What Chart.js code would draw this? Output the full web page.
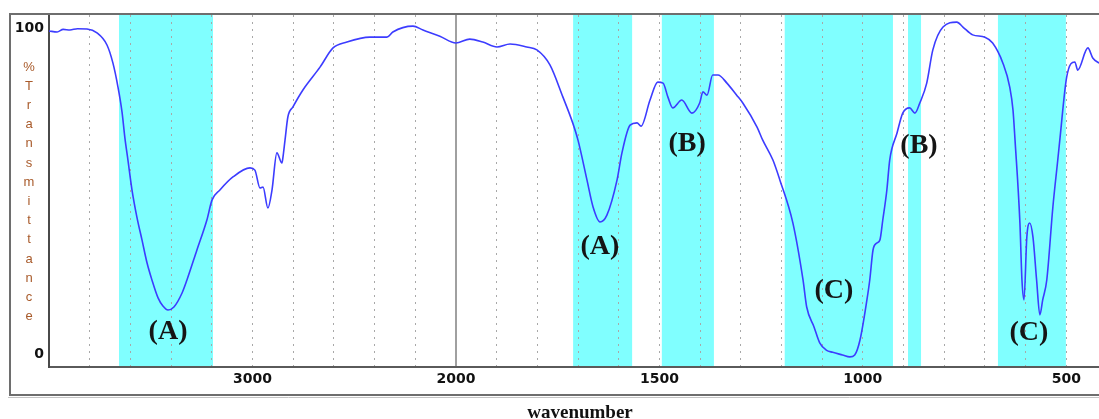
<!DOCTYPE html>
<html>
<head>
<meta charset="utf-8">
<script src="https://cdn.jsdelivr.net/npm/chart.js@4.4.1/dist/chart.umd.min.js"></script>
<style>
  html, body { margin: 0; padding: 0; background: #fff; overflow: hidden; }
  #wrap { width: 1099px; height: 419px; overflow: hidden; position: relative; }
  canvas { display: block; }
</style>
</head>
<body>
<div id="wrap"><canvas id="ir" width="1130" height="419"></canvas></div>
<script>
// IR spectrum: wavenumber (cm-1) and % transmittance
const wavenumbers = [
  4000, 3960, 3930, 3897, 3860, 3813, 3764, 3715, 3686, 3661, 3641, 3627, 3612, 3592, 3568,
  3543, 3518, 3494, 3464, 3440, 3415, 3386, 3346, 3322, 3273, 3224, 3199, 3160, 3096, 3012,
  2988, 2963, 2948, 2924, 2904, 2880, 2855, 2850, 2840, 2826, 2801, 2752, 2668, 2604, 2536,
  2423, 2339, 2310, 2211, 2162, 2079, 2000, 1966, 1934, 1899, 1867, 1826, 1801, 1769, 1737,
  1713, 1700, 1678, 1663, 1646, 1629, 1604, 1592, 1572, 1555, 1545, 1523, 1504, 1491, 1479,
  1467, 1445, 1420, 1401, 1393, 1383, 1369, 1356, 1334, 1310, 1295, 1260, 1246, 1221, 1204,
  1172, 1147, 1138, 1120, 1106, 1090, 1074, 1050, 1032, 1020, 1007, 990, 983, 975, 966, 958, 951,
  941, 934, 916, 902, 885, 872, 860, 843, 828, 803, 769, 754, 730, 700, 681,
  656, 639, 631, 626, 614, 609, 604, 597, 590, 582, 573, 565, 558, 548, 533,
  521, 516, 499, 479, 472, 447, 435, 420, 400
];
const transmittance = [
  99.1, 98.8, 99.6, 99.4, 99.8, 99.7, 98.5, 94.8, 89.3, 81.9, 74.2, 66.3, 59.5, 50.3, 42.0,
  35.0, 27.9, 22.7, 17.2, 14.7, 13.5, 14.4, 18.7, 22.7, 31.9, 41.1, 47.2, 50.3, 54.3, 57.1,
  56.4, 50.9, 51.2, 44.8, 50.3, 61.7, 58.6, 60.4, 65.6, 72.7, 75.8, 81.0, 88.0, 93.9, 95.7,
  97.2, 97.2, 98.8, 100.6, 99.4, 97.5, 95.4, 96.6, 95.7, 94.2, 95.1, 94.2, 93.3, 88.7, 78.8,
  70.9, 65.6, 53.4, 45.1, 40.5, 42.6, 53.4, 61.7, 70.2, 70.9, 69.9, 77.9, 83.4, 83.1, 78.8,
  75.5, 77.9, 73.9, 77.0, 80.4, 79.4, 85.6, 85.6, 83.1, 79.4, 77.0, 69.6, 65.6, 59.5, 53.4,
  40.2, 22.7, 14.4, 8.3, 3.4, 1.2, 0.5, -0.3, -0.9, -0.3, 4.3, 16.6, 22.7, 31.9, 34.0, 35.0, 41.1,
  50.3, 59.5, 67.8, 73.9, 75.5, 73.9, 77.0, 83.1, 93.3, 100.3, 101.8, 100.3, 97.9, 97.2, 95.4,
  89.3, 81.9, 74.8, 65.6, 40.2, 22.7, 16.6, 35.9, 40.2, 35.9, 22.7, 12.0, 16.6, 22.7, 45.1,
  59.5, 65.6, 85.0, 89.6, 87.1, 93.9, 90.8, 89.3, 88.0
];

// Highlighted absorption regions (from, to) in cm-1
const bandFrom = [3656, 1712, 1494, 1192, 889, 668];
const bandTo   = [3194, 1567, 1366,  926, 857, 501];

// Group labels and where they sit (cm-1, %T)
const groupLabels = ['(A)', '(A)', '(B)', '(B)', '(C)', '(C)'];
const groupLabelWn = [3415, 1646, 1432, 862, 1071, 592];
const groupLabelT  = [6.7, 32.8, 64.4, 63.8, 19.3, 6.4];

// Axis ticks
const gridWavenumbers = [3800, 3600, 3400, 3200, 3000, 2800, 2600, 2400, 2200, 2000,
  1900, 1800, 1700, 1600, 1500, 1400, 1300, 1200, 1100, 1000, 900, 800, 700, 600, 500];
const labeledWavenumbers = [3000, 2000, 1500, 1000, 500];
const yTickValues = [0, 100];
const yTitle = '%Transmittance';
const xTitle = 'wavenumber';

// Wavenumber axis: scale is compressed 2x above 2000 cm-1
const SPLIT = 2000;
function warp(wn) { return wn >= SPLIT ? (4000 - wn) : (4000 - SPLIT) + (SPLIT - wn) * 2; }
function unwarp(u) { return u <= (4000 - SPLIT) ? 4000 - u : SPLIT - (u - (4000 - SPLIT)) / 2; }

class WavenumberScale extends Chart.LinearScale {
  getPixelForValue(value) {
    if (value === null || value === undefined || isNaN(value)) return NaN;
    const a = warp(this.max), b = warp(this.min);
    return this.getPixelForDecimal((warp(value) - a) / (b - a));
  }
  getValueForPixel(pixel) {
    const a = warp(this.max), b = warp(this.min);
    return unwarp(a + this.getDecimalForPixel(pixel) * (b - a));
  }
}
WavenumberScale.id = 'wavenumber';
WavenumberScale.defaults = Chart.LinearScale.defaults;
Chart.register(WavenumberScale);

const bandsPlugin = {
  id: 'bands',
  beforeDraw(chart) {
    const { ctx, chartArea, scales } = chart;
    ctx.save();
    ctx.fillStyle = '#ffffff';
    ctx.fillRect(0, 0, chart.width, chart.height);
    ctx.fillStyle = '#80ffff';
    for (let i = 0; i < bandFrom.length; i++) {
      const x1 = scales.x.getPixelForValue(bandFrom[i]);
      const x2 = scales.x.getPixelForValue(bandTo[i]);
      ctx.fillRect(x1, chartArea.top, x2 - x1, chartArea.bottom - chartArea.top);
    }
    ctx.restore();
  }
};

const decorPlugin = {
  id: 'decor',
  afterDatasetsDraw(chart) {
    const { ctx, scales } = chart;
    ctx.save();
    ctx.fillStyle = '#151515';
    ctx.font = 'bold 28px "Liberation Serif", "Times New Roman", serif';
    ctx.textAlign = 'center';
    ctx.textBaseline = 'middle';
    for (let i = 0; i < groupLabels.length; i++) {
      ctx.fillText(groupLabels[i], scales.x.getPixelForValue(groupLabelWn[i]),
        scales.y.getPixelForValue(groupLabelT[i]));
    }
    ctx.restore();
  },
  afterDraw(chart) {
    const { ctx } = chart;
    ctx.save();
    // outer frame
    ctx.strokeStyle = '#6e6e6e';
    ctx.lineWidth = 2;
    ctx.beginPath();
    ctx.moveTo(chart.width, 14);
    ctx.lineTo(10, 14);
    ctx.lineTo(10, 395);
    ctx.lineTo(chart.width, 395);
    ctx.stroke();
    ctx.strokeStyle = '#c4c4c4';
    ctx.lineWidth = 1;
    ctx.beginPath();
    ctx.moveTo(8, 397.5);
    ctx.lineTo(chart.width, 397.5);
    ctx.stroke();

    // vertical y-axis title
    ctx.fillStyle = '#a85a2a';
    ctx.font = '13px "Liberation Sans", Arial, sans-serif';
    ctx.textAlign = 'center';
    ctx.textBaseline = 'middle';
    Array.from(yTitle).forEach((ch, i) => ctx.fillText(ch, 29, 67 + i * 19.2));

    // x-axis title
    ctx.fillStyle = '#111';
    ctx.font = 'bold 19px "Liberation Serif", "Times New Roman", serif';
    ctx.textBaseline = 'alphabetic';
    ctx.fillText(xTitle, 580, 418);
    ctx.restore();
  }
};

const tickFont = { family: '"DejaVu Sans", sans-serif', size: 14, weight: 'bold' };

new Chart(document.getElementById('ir'), {
  type: 'line',
  data: {
    datasets: [{
      data: wavenumbers.map((w, i) => ({ x: w, y: transmittance[i] })),
      borderColor: '#3c3cff',
      borderWidth: 1.6,
      pointRadius: 0,
      fill: false,
      cubicInterpolationMode: 'monotone'
    }]
  },
  options: {
    responsive: false,
    animation: false,
    devicePixelRatio: 1,
    layout: { padding: { left: 10, right: 23, top: 15, bottom: 24 } },
    plugins: { legend: { display: false }, tooltip: { enabled: false } },
    scales: {
      x: {
        type: 'wavenumber',
        min: 400,
        max: 4000,
        afterBuildTicks: s => { s.ticks = gridWavenumbers.map(v => ({ value: v })); },
        afterFit: s => { s.height = 28; },
        ticks: {
          autoSkip: false, maxRotation: 0, minRotation: 0, padding: 4,
          color: '#111', font: tickFont,
          callback: v => labeledWavenumbers.includes(v) ? String(v) : ''
        },
        grid: {
          drawTicks: false,
          color: c => (c.tick && c.tick.value === SPLIT) ? '#a0a0a0' : '#a8a8a8',
          lineWidth: c => (c.tick && c.tick.value === SPLIT) ? 2 : 1
        },
        border: {
          display: true, color: '#5a5a5a', width: 2,
          dash: c => (c.tick && c.tick.value !== SPLIT) ? [2, 5] : []
        }
      },
      y: {
        min: -4,
        max: 104,
        afterBuildTicks: s => { s.ticks = yTickValues.map(v => ({ value: v })); },
        afterFit: s => { s.width = 39; },
        ticks: { padding: 5, color: '#111', font: tickFont },
        grid: { display: false, drawTicks: false },
        border: { display: true, color: '#4a4a4a', width: 2 }
      }
    }
  },
  plugins: [bandsPlugin, decorPlugin]
});
</script>
</body>
</html>
